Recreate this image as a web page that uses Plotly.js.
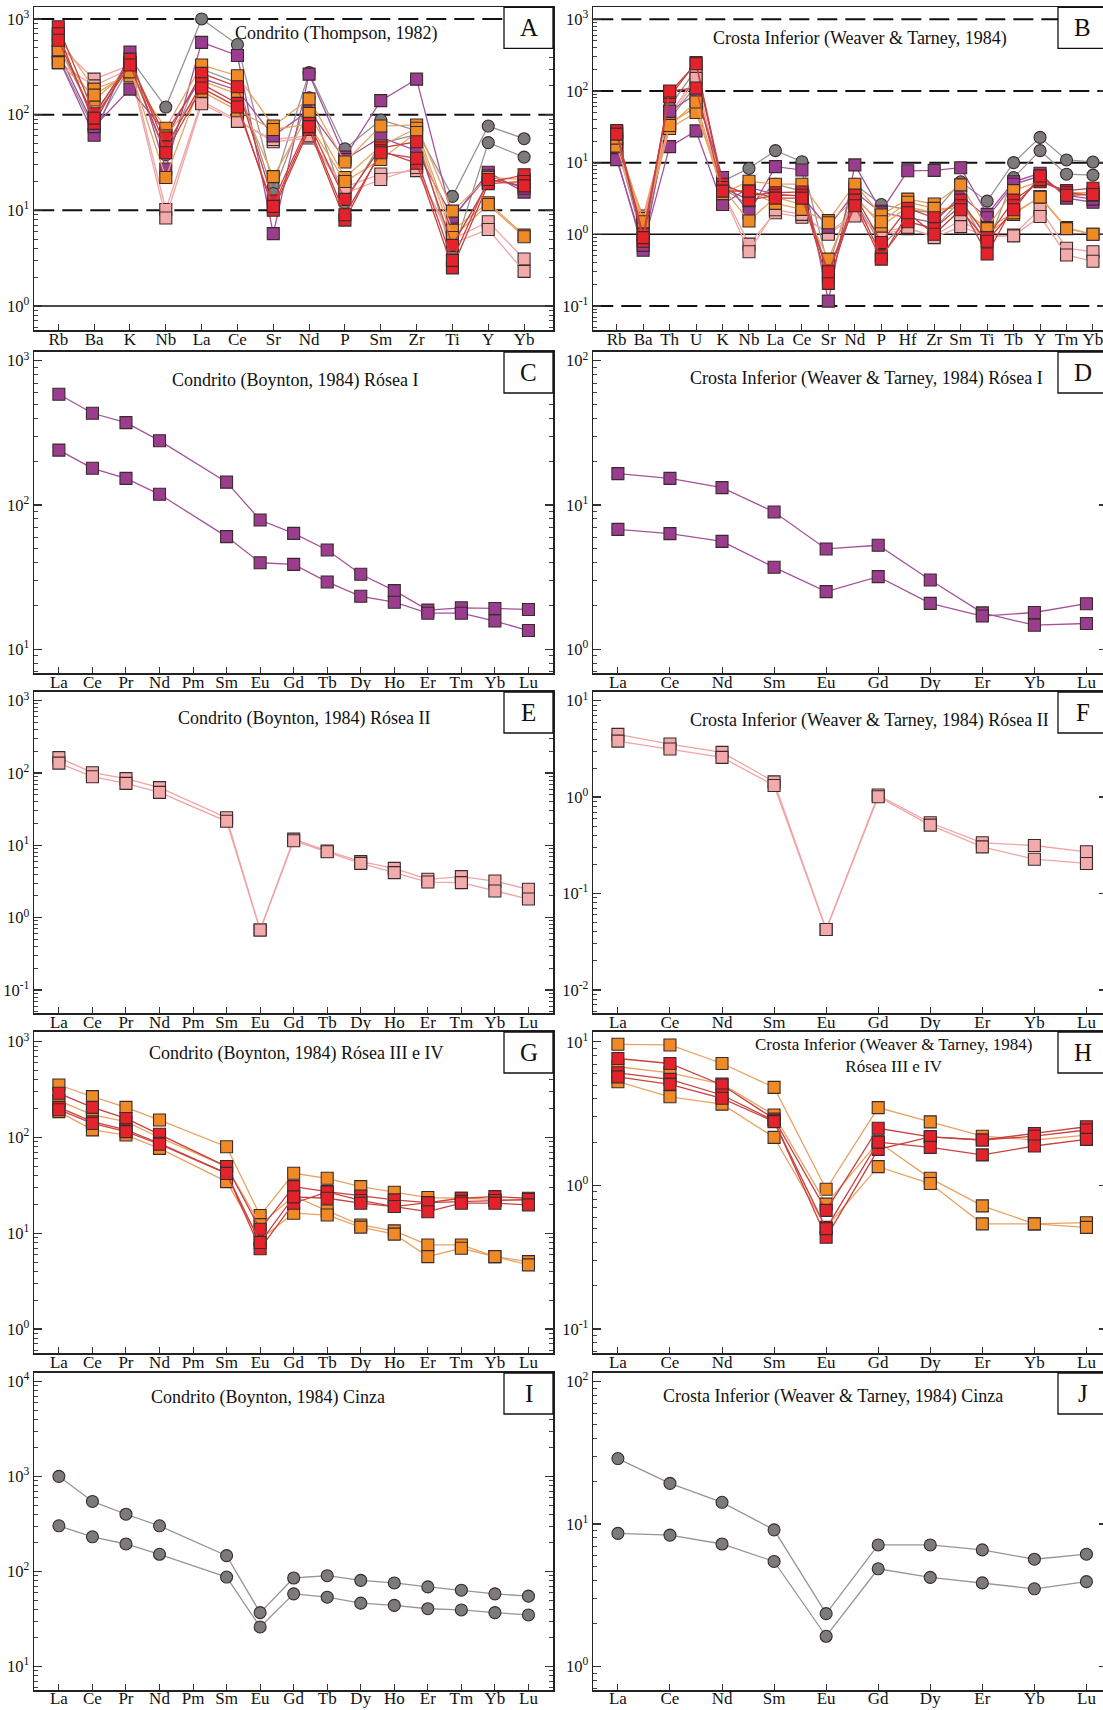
<!DOCTYPE html>
<html><head><meta charset="utf-8">
<script src="https://cdn.plot.ly/plotly-3.0.1.min.js"></script>
<style>html,body{margin:0;padding:0;overflow:hidden;background:#fff;} #chart{width:1112px;height:1710px;}</style>
</head><body><div id="chart"></div><script>
// ---------- categories ----------
const elA = ['Rb','Ba','K','Nb','La','Ce','Sr','Nd','P','Sm','Zr','Ti','Y','Yb'];
const elB = ['Rb','Ba','Th','U','K','Nb','La','Ce','Sr','Nd','P','Hf','Zr','Sm','Ti','Tb','Y','Tm','Yb'];
const reeChon = ['La','Ce','Pr','Nd','Pm','Sm','Eu','Gd','Tb','Dy','Ho','Er','Tm','Yb','Lu'];
const reeCrust = ['La','Ce','Nd','Sm','Eu','Gd','Dy','Er','Yb','Lu'];

// ---------- A: Condrito (Thompson, 1982) ----------
const A_cinza1 = [520, 95, 390, 120, 1000, 540, 18, 275, 44, 88, 68, 14, 76, 56];
const A_cinza2 = [400, 70, 320, 38, 300, 215, 15, 150, 12, 50, 62, 3.4, 51, 36];
const A_rosea2a = [540, 235, 330, 10.2, 138, 88, 52, 57, 17.5, 24, 26, 5, 7.6, 3.1];
const A_rosea2b = [350, 200, 300, 8.3, 130, 85, 55, 60, 15, 21, 28, 4.5, 6.3, 2.3];
const A_rosea1a = [390, 61, 450, 27, 570, 415, 5.7, 265, 36, 140, 235, 8.2, 25, 15.5];
const A_rosea1b = [450, 75, 185, 65, 240, 180, 60, 110, 34, 58, 42, 8.5, 23, 17];
const A_or1 = [660, 185, 255, 72, 330, 255, 76, 146, 32, 76, 78, 9.8, 22, 21];
const A_or2 = [475, 142, 300, 22, 226, 164, 22.5, 103, 22, 47, 72, 6.2, 12, 5.5];
const A_or3 = [350, 160, 280, 60, 175, 110, 70, 80, 20, 34, 65, 5.2, 11.5, 5.3];
const A_red1 = [830, 102, 350, 57, 270, 196, 12.5, 81, 13, 45, 52, 4.3, 19.5, 23.5];
const A_red2 = [700, 81, 380, 46, 210, 131, 10, 70, 7.9, 42, 31, 2.5, 19, 20];
const A_red3 = [600, 92, 330, 40, 190, 120, 11, 75, 9, 40, 35, 3.0, 21, 18];

// ---------- B: Crosta Inferior (Weaver & Tarney, 1984) ----------
const B_cinza1 = [22, 0.9, 60, 200, 5.5, 8.3, 14.7, 10.3, 0.35, 5.0, 2.6, 2.2, 2.0, 5.4, 2.9, 10, 22.5, 10.9, 10.2];
const B_cinza2 = [18, 0.8, 40, 120, 4.5, 2.5, 5, 4, 0.3, 3.0, 0.7, 1.5, 1.2, 3.0, 0.69, 6.2, 14.7, 6.9, 6.7];
const B_rosea2a = [16, 1.8, 45, 165, 4.0, 0.73, 2.0, 1.73, 1.05, 2.0, 1.0, 1.2, 0.95, 1.58, 0.9, 0.98, 2.25, 0.64, 0.57];
const B_rosea2b = [14, 1.5, 40, 150, 3.8, 0.57, 2.2, 1.9, 1.0, 1.8, 1.1, 1.25, 0.9, 1.28, 0.95, 0.95, 1.77, 0.515, 0.42];
const B_rosea1a = [12, 0.6, 52, 90, 6.2, 2.0, 8.8, 7.9, 0.117, 9.3, 2.1, 7.7, 7.8, 8.5, 1.9, 5.4, 7.1, 3.2, 2.8];
const B_rosea1b = [11, 0.7, 16.7, 27.7, 2.6, 4.5, 3.6, 3.4, 1.25, 3.9, 2.0, 1.73, 1.46, 3.5, 1.7, 5.0, 6.5, 3.5, 3.1];
const B_or1 = [20, 1.67, 35, 60, 3.7, 5.5, 5.0, 5.0, 1.55, 5.0, 1.86, 3.1, 2.65, 4.9, 1.24, 4.07, 5.5, 3.8, 3.8];
const B_or2 = [17, 1.24, 30, 50, 4.5, 1.53, 3.3, 2.6, 0.45, 3.5, 1.3, 2.4, 2.0, 2.7, 1.0, 1.9, 3.36, 1.24, 1.0];
const B_or3 = [22, 1.5, 33, 70, 4.2, 4.0, 2.7, 2.23, 1.45, 3.08, 1.5, 2.8, 2.3, 2.3, 1.2, 2.0, 3.3, 1.2, 1.0];
const B_red1 = [27, 1.0, 83, 250, 5.0, 3.5, 3.8, 3.9, 0.26, 3.5, 0.77, 2.3, 1.7, 3.0, 0.9, 3.0, 5.4, 4.07, 4.4];
const B_red2 = [28, 0.8, 95, 240, 4.5, 3.0, 3.5, 3.5, 0.207, 3.0, 0.5, 1.5, 1.2, 2.5, 0.53, 2.5, 5.8, 3.8, 3.5];
const B_red3 = [25, 0.9, 100, 110, 4.0, 4.0, 3.2, 3.2, 0.3, 2.5, 0.45, 2.0, 1.0, 2.2, 0.8, 2.2, 6.5, 3.5, 3.6];

// ---------- C / D: Rósea I ----------
const C_rosea1a = [585, 432, 372, 279, null, 144, 78.7, 63.6, 48.8, 33.1, 25.5, 18.7, 19.4, 19.2, 18.9];
const C_rosea1b = [240, 179.5, 153, 118.6, null, 60.4, 39.8, 38.8, 29.3, 23.3, 21.2, 17.8, 17.8, 15.7, 13.5];
const D_rosea1a = [16.5, 15.3, 13.2, 8.95, 4.96, 5.26, 3.02, 1.79, 1.47, 1.51];
const D_rosea1b = [6.78, 6.33, 5.6, 3.70, 2.51, 3.19, 2.08, 1.70, 1.80, 2.07];

// ---------- E / F: Rósea II ----------
const E_rosea2a = [163, 101, 83.6, 62.7, null, 24.1, 0.675, 12.2, 8.36, 5.95, 4.81, 3.39, 3.69, 3.21, 2.47];
const E_rosea2b = [137, 88.9, 71.9, 54.0, null, 21.5, 0.675, 11.6, 8.17, 5.64, 4.19, 3.11, 3.05, 2.34, 1.81];
const F_rosea2a = [4.47, 3.55, 2.91, 1.44, 0.0423, 1.05, 0.542, 0.336, 0.315, 0.271];
const F_rosea2b = [3.81, 3.15, 2.58, 1.32, 0.0423, 1.01, 0.512, 0.305, 0.227, 0.205];

// ---------- G / H: Rósea III e IV ----------
const G_or1 = [353, 267, 206, 152, null, 80, 15.3, 42.3, 37.5, 30.7, 26.8, 23.6, 23.2, 22.5, 22];
const G_red1 = [289, 206, 158, 108, null, 49.7, 11, 30.7, 27.2, 24.5, 22.3, 20.9, 23.2, 24.1, 23.2];
const G_or2 = [242, 172, 146, 100, null, 49.7, 12.3, 24.5, 17.1, 12.2, 10.6, 7.55, 7.55, 5.7, 5.06];
const G_red2 = [206, 146, 120, 87, null, 42.3, 6.9, 20.6, 27, 22, 19, 20.9, 21.5, 22, 22.5];
const G_red3 = [195, 140, 115, 85, null, 42, 8, 24, 23.2, 20.6, 19.0, 16.8, 20.6, 20.6, 19.8];
const G_or3 = [186, 120, 106, 77, null, 34.6, 8.6, 16.2, 15.5, 11.6, 9.8, 5.7, 6.97, 5.7, 4.68];
const H_or1 = [9.6, 9.5, 7.06, 4.81, 0.94, 3.48, 2.77, 2.2, 2.07, 2.24];
const H_red1 = [7.65, 7.06, 5.0, 2.9, 0.67, 2.5, 2.18, 2.07, 2.3, 2.56];
const H_or2 = [6.7, 6.08, 5.07, 3.09, 0.74, 2.01, 1.12, 0.72, 0.54, 0.55];
const H_red2 = [6.08, 5.47, 4.26, 2.82, 0.435, 1.78, 2.18, 2.07, 2.2, 2.43];
const H_red3 = [5.7, 5.05, 4.04, 2.78, 0.5, 2.0, 1.84, 1.63, 1.88, 2.09];
const H_or3 = [5.27, 4.14, 3.68, 2.16, 0.51, 1.35, 1.03, 0.54, 0.54, 0.51];

// ---------- I / J: Cinza ----------
const I_cinza1 = [1005, 547, 401, 303, null, 147, 36.9, 85.5, 90.4, 80.8, 75.8, 68.9, 63.6, 58.2, 55.1];
const I_cinza2 = [303, 232, 195, 152, null, 87.5, 26.1, 58.2, 53.7, 46.5, 44.0, 40.6, 39.4, 36.9, 34.9];
const J_cinza1 = [28.8, 19.3, 14.2, 9.1, 2.35, 7.13, 7.13, 6.58, 5.66, 6.14];
const J_cinza2 = [8.59, 8.36, 7.24, 5.46, 1.63, 4.85, 4.22, 3.86, 3.51, 3.94];

// ---------- styles ----------
const FONT = 'Liberation Serif, Times New Roman, serif';
const STY = {
  cinza: {sym:'circle', fill:'#7b7b7b', line:'#959595'},
  r1:    {sym:'square', fill:'#9b3d8f', line:'#a5529b'},
  r2:    {sym:'square', fill:'#f3aaaa', line:'#f0a4a4'},
  or:    {sym:'square', fill:'#f08a26', line:'#e9a262'},
  red:   {sym:'square', fill:'#e4222b', line:'#c9423f'}
};

const W = 1112, H = 1710;
const rowsTop = [7.3, 352, 692, 1032, 1373];
const rowsBot = [330, 673, 1013, 1353, 1690];
const rowStandoff = [-7, -7, -7, -7, -8];
const colPx = [[34.3, 553], [593.3, 1107]];

const panels = [
  {cats: elA, xr:[-0.67, 13.807], yr:[-0.251, 3.122], exps:[0,1,2,3], letter:'A',
   title:'Condrito (Thompson, 1982)', tx:336, ty:26,
   refs:{dash:[1000,100,10], solid:[1]},
   series:[[A_cinza1,'cinza'],[A_cinza2,'cinza'],[A_rosea2a,'r2'],[A_rosea2b,'r2'],[A_rosea1a,'r1'],[A_rosea1b,'r1'],[A_or1,'or'],[A_or2,'or'],[A_or3,'or'],[A_red1,'red'],[A_red2,'red'],[A_red3,'red']]},
  {cats: elB, xr:[-0.884, 18.53], yr:[-1.335, 3.167], exps:[-1,0,1,2,3], letter:'B',
   title:'Crosta Inferior (Weaver & Tarney, 1984)', tx:860, ty:31,
   refs:{dash:[1000,100,10,0.1], solid:[1]},
   series:[[B_cinza1,'cinza'],[B_cinza2,'cinza'],[B_rosea2a,'r2'],[B_rosea2b,'r2'],[B_rosea1a,'r1'],[B_rosea1b,'r1'],[B_or1,'or'],[B_or2,'or'],[B_or3,'or'],[B_red1,'red'],[B_red2,'red'],[B_red3,'red']]},
  {cats: reeChon, xr:[-0.733, 14.732], yr:[0.836, 3.06], exps:[1,2,3], letter:'C',
   title:'Condrito (Boynton, 1984) Rósea I', tx:295, ty:28,
   series:[[C_rosea1a,'r1'],[C_rosea1b,'r1']]},
  {cats: reeCrust, xr:[-0.4725, 9.395], yr:[-0.164, 2.06], exps:[0,1,2], letter:'D',
   title:'Crosta Inferior (Weaver & Tarney, 1984) Rósea I', tx:866, ty:26,
   series:[[D_rosea1a,'r1'],[D_rosea1b,'r1']]},
  {cats: reeChon, xr:[-0.733, 14.732], yr:[-1.318, 3.12], exps:[-1,0,1,2,3], letter:'E',
   title:'Condrito (Boynton, 1984) Rósea II', tx:304, ty:26,
   series:[[E_rosea2a,'r2'],[E_rosea2b,'r2']]},
  {cats: reeCrust, xr:[-0.4725, 9.395], yr:[-2.239, 1.09], exps:[-2,-1,0,1], letter:'F',
   title:'Crosta Inferior (Weaver & Tarney, 1984) Rósea II', tx:869, ty:28,
   series:[[F_rosea2a,'r2'],[F_rosea2b,'r2']]},
  {cats: reeChon, xr:[-0.733, 14.732], yr:[-0.25, 3.101], exps:[0,1,2,3], letter:'G',
   title:'Condrito (Boynton, 1984) Rósea III e IV', tx:296, ty:21,
   series:[[G_or1,'or'],[G_or2,'or'],[G_or3,'or'],[G_red1,'red'],[G_red2,'red'],[G_red3,'red']]},
  {cats: reeCrust, xr:[-0.4725, 9.395], yr:[-1.167, 1.068], exps:[-1,0,1], letter:'H',
   title:'Crosta Inferior (Weaver & Tarney, 1984)<br>Rósea III e IV', tx:893, ty:23, lines:2,
   series:[[H_or1,'or'],[H_or2,'or'],[H_or3,'or'],[H_red1,'red'],[H_red2,'red'],[H_red3,'red']]},
  {cats: reeChon, xr:[-0.733, 14.732], yr:[0.753, 4.09], exps:[1,2,3,4], letter:'I',
   title:'Condrito (Boynton, 1984) Cinza', tx:268, ty:24,
   series:[[I_cinza1,'cinza'],[I_cinza2,'cinza']]},
  {cats: reeCrust, xr:[-0.4725, 9.395], yr:[-0.165, 2.06], exps:[0,1,2], letter:'J',
   title:'Crosta Inferior (Weaver & Tarney, 1984) Cinza', tx:833, ty:23,
   series:[[J_cinza1,'cinza'],[J_cinza2,'cinza']]}
];

const traces = [], shapes = [], annotations = [];
const layout = {
  width: W, height: H, margin:{l:0,r:0,t:0,b:0}, showlegend:false,
  paper_bgcolor:'#fff', plot_bgcolor:'rgba(0,0,0,0)', font:{family:FONT, color:'#111'}
};

panels.forEach((p, i) => {
  const row = Math.floor(i/2), col = i % 2;
  const sfx = i === 0 ? '' : String(i+1);
  const xa = 'x' + sfx, ya = 'y' + sfx;
  const [xl, xr] = colPx[col];
  const top = rowsTop[row], bot = rowsBot[row];
  const pw = xr - xl, ph = bot - top;

  const minorVals = [];
  for (let e = Math.floor(p.yr[0]); e <= Math.ceil(p.yr[1]); e++)
    for (let m = 2; m <= 9; m++) minorVals.push(m * Math.pow(10, e));

  layout['xaxis' + sfx] = {
    domain:[xl/W, xr/W], anchor: ya, type:'category',
    categoryorder:'array', categoryarray: p.cats, range: p.xr,
    tickmode:'array', tickvals: p.cats, ticktext: p.cats,
    ticks:'inside', ticklen:6, tickwidth:1, tickcolor:'#333', ticklabelstandoff: rowStandoff[row],
    showline:true, mirror:true, linecolor:'#222', linewidth:1.6,
    showgrid:false, zeroline:false, tickfont:{family:FONT, size:17, color:'#111'}
  };
  layout['yaxis' + sfx] = {
    domain:[1 - bot/H, 1 - top/H], anchor: xa, type:'log', range: p.yr,
    tickmode:'array', tickvals: p.exps.map(e => Math.pow(10, e)),
    ticktext: p.exps.map(e => '10<sup>' + e + '</sup>'),
    ticks:'inside', ticklen:8, tickwidth:1.2, tickcolor:'#333',
    minor:{tickvals: minorVals, ticks:'inside', ticklen:4, tickwidth:1, tickcolor:'#444', showgrid:false},
    showline:true, mirror:'ticks', linecolor:'#222', linewidth:1.6,
    showgrid:false, zeroline:false, tickfont:{family:FONT, size:16.5, color:'#111'}
  };

  if (p.refs) {
    p.refs.dash.forEach(v => shapes.push({type:'line', xref: xa + ' domain', yref: ya, x0:0, x1:1, y0:v, y1:v,
      line:{color:'#111', width:2, dash:'20px,8px'}, layer:'below'}));
    p.refs.solid.forEach(v => shapes.push({type:'line', xref: xa + ' domain', yref: ya, x0:0, x1:1, y0:v, y1:v,
      line:{color:'#111', width:1.6}, layer:'below'}));
  }

  p.series.forEach(([vals, key]) => {
    const s = STY[key];
    traces.push({
      type:'scatter', mode:'lines+markers', x: p.cats, y: vals, xaxis: xa, yaxis: ya,
      connectgaps:true, cliponaxis:true, hoverinfo:'skip',
      line:{color: s.line, width:1.3},
      marker:{symbol: s.sym, size:12, color: s.fill, line:{color:'#3a2a2a', width:1.1}}
    });
  });

  // letter box
  const bw = 49, bh = 41;
  shapes.push({type:'rect', xref: xa + ' domain', yref: ya + ' domain',
    x0: 1 - bw/pw, x1: 1, y0: 1 - bh/ph, y1: 1, line:{color:'#111', width:1.3}, fillcolor:'#fff', layer:'above'});
  annotations.push({xref: xa + ' domain', yref: ya + ' domain', x: 1 - bw/(2*pw), y: 1 - bh/(2*ph),
    text: p.letter, showarrow:false, xanchor:'center', yanchor:'middle',
    font:{family:FONT, size:25, color:'#111'}});

  // title
  annotations.push({xref: xa + ' domain', yref: ya + ' domain',
    x: (p.tx - xl)/pw, y: 1 - p.ty/ph, text: p.title, showarrow:false,
    xanchor:'center', yanchor:'middle', font:{family:FONT, size: p.lines ? 17 : 18, color:'#111'}});
});

layout.shapes = shapes;
layout.annotations = annotations;
Plotly.newPlot('chart', traces, layout, {displayModeBar:false, staticPlot:true});
</script></body></html>
